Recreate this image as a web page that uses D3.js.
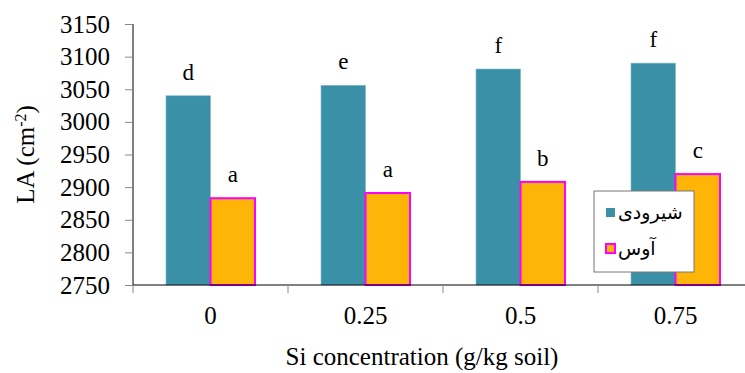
<!DOCTYPE html>
<html>
<head>
<meta charset="utf-8">
<script src="https://cdn.jsdelivr.net/npm/d3@7"></script>
<style>
  body { margin: 0; background: #fff; }
  text { font-family: "Liberation Serif", "Times New Roman", serif; }
</style>
</head>
<body>
<svg id="chart" width="745" height="373"></svg>
<script>
// data
var categories = ["0", "0.25", "0.5", "0.75"];
var shirudi = [3040, 3056, 3081, 3090];
var aws = [2883, 2891, 2908, 2920];
var shirudiLetters = ["d", "e", "f", "f"];
var awsLetters = ["a", "a", "b", "c"];
var seriesNames = ["شیرودی", "آوس"];
var yTicks = [2750, 2800, 2850, 2900, 2950, 3000, 3050, 3100, 3150];

var svg = d3.select("#chart");

// plot edges (window.top is read-only, so own names)
var pLeft = 133, pRight = 753, pTop = 24, pBottom = 285;

var x = d3.scaleBand()
    .domain(categories)
    .range([pLeft, pRight])
    .paddingInner(0).paddingOuter(0);

var y = d3.scaleLinear()
    .domain([2750, 3150])
    .range([pBottom, pTop]);

var barW = 44.5;
var offset = (x.bandwidth() - 2 * barW) / 2;

// y axis
var yAxis = svg.append("g")
    .attr("transform", "translate(" + pLeft + ",0)")
    .call(d3.axisLeft(y).tickValues(yTicks).tickSize(8).tickPadding(15).tickFormat(d3.format("d")));
yAxis.select(".domain").attr("stroke", "#000").attr("d", "M0," + pTop + "V" + pBottom);
yAxis.selectAll(".tick line").attr("stroke", "#888");
yAxis.selectAll(".tick text").attr("font-size", 25).attr("fill", "#000")
    .style("font-family", "Liberation Serif");

// bars
var teal = "#3a90a6", orange = "#ffb508", magenta = "#ff00ff";

svg.selectAll(".bar1")
    .data(shirudi)
    .enter().append("rect")
    .attr("x", function(d, i) { return x(categories[i]) + offset; })
    .attr("y", function(d) { return y(d); })
    .attr("width", barW)
    .attr("height", function(d) { return pBottom - y(d); })
    .attr("fill", teal)
    .attr("stroke", "#7fb8c8")
    .attr("stroke-width", 0.6);

svg.selectAll(".bar2")
    .data(aws)
    .enter().append("rect")
    .attr("x", function(d, i) { return x(categories[i]) + offset + barW; })
    .attr("y", function(d) { return y(d); })
    .attr("width", barW)
    .attr("height", function(d) { return pBottom - y(d); })
    .attr("fill", orange)
    .attr("stroke", magenta)
    .attr("stroke-width", 2);

// letters above bars
svg.selectAll(".lab1")
    .data(shirudi)
    .enter().append("text")
    .attr("x", function(d, i) { return x(categories[i]) + offset + barW / 2; })
    .attr("y", function(d) { return y(d) - 16; })
    .attr("text-anchor", "middle")
    .attr("font-size", 23)
    .text(function(d, i) { return shirudiLetters[i]; });

svg.selectAll(".lab2")
    .data(aws)
    .enter().append("text")
    .attr("x", function(d, i) { return x(categories[i]) + offset + barW * 1.5; })
    .attr("y", function(d) { return y(d) - 16; })
    .attr("text-anchor", "middle")
    .attr("font-size", 23)
    .text(function(d, i) { return awsLetters[i]; });

// x axis
var xAxis = svg.append("g")
    .attr("transform", "translate(0," + pBottom + ")")
    .call(d3.axisBottom(x).tickSize(0).tickPadding(21));
xAxis.select(".domain").attr("stroke", "#000").attr("d", "M" + pLeft + ",0H745");
xAxis.selectAll(".tick text").attr("font-size", 25).attr("fill", "#000")
    .style("font-family", "Liberation Serif");
xAxis.selectAll(".sep")
    .data(categories)
    .enter().append("line")
    .attr("x1", function(d) { return x(d); })
    .attr("x2", function(d) { return x(d); })
    .attr("y1", 0).attr("y2", 8)
    .attr("stroke", "#888");

// axis titles
svg.append("text")
    .attr("transform", "translate(34," + (pTop + pBottom) / 2 + ") rotate(-90)")
    .attr("text-anchor", "middle")
    .attr("font-size", 25)
    .html('LA (cm<tspan baseline-shift="super" font-size="16">-2</tspan>)');

svg.append("text")
    .attr("x", 422)
    .attr("y", 365)
    .attr("text-anchor", "middle")
    .attr("font-size", 25)
    .text("Si concentration (g/kg soil)");

// legend
var lg = svg.append("g").attr("transform", "translate(594,191)");
lg.append("rect")
    .attr("width", 100).attr("height", 81)
    .attr("fill", "#fff").attr("stroke", "#777").attr("stroke-width", 1);
var swatch = [
    { fill: teal, stroke: "none", sw: 0 },
    { fill: orange, stroke: magenta, sw: 2 }
];
seriesNames.forEach(function(name, i) {
    var yy = 22 + i * 36;
    lg.append("rect")
        .attr("x", 12).attr("y", yy - 5)
        .attr("width", 9).attr("height", 9)
        .attr("fill", swatch[i].fill)
        .attr("stroke", swatch[i].stroke)
        .attr("stroke-width", swatch[i].sw);
    lg.append("text")
        .attr("x", 24).attr("y", yy + 6)
        .attr("font-size", 19)
        .style("font-family", "DejaVu Sans")
        .attr("direction", "ltr")
        .text(name);
});
</script>
</body>
</html>
